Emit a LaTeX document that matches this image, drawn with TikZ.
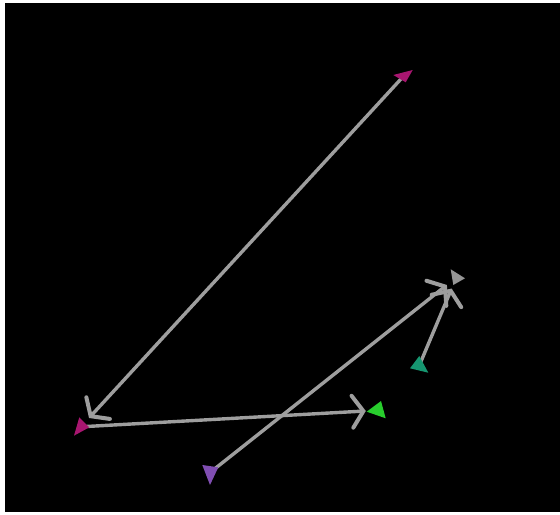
\documentclass[tikz,border=0pt]{standalone}
\usepackage{tikz}
\usetikzlibrary{arrows.meta, calc}
\definecolor{linkgray}{RGB}{158,158,158}
\definecolor{plum}{RGB}{168,22,112}
\definecolor{leaf}{RGB}{40,205,45}
\definecolor{sea}{RGB}{22,150,112}
\definecolor{violet}{RGB}{128,78,178}
\definecolor{ash}{RGB}{150,150,150}

\begin{document}
\begin{tikzpicture}[x=0.5mm, y=-0.5mm,
    link/.style={draw=linkgray, line width=1.7mm, line cap=round,
        -{Straight Barb[length=5.5mm, width=16mm, line width=2mm, line cap=round]}, shorten >=6mm}]
    % Frame
    \useasboundingbox (0,0) rectangle (560,515);
    \fill[white] (0,0) rectangle (560,515);
    \fill[black] (5,3) rectangle (560,512);

    % Points
    \coordinate (m1) at (403.9,75.8);
    \coordinate (m2) at (80.9,426.8);
    \coordinate (g) at (377.8,410.3);
    \coordinate (p) at (210.2,472.4);
    \coordinate (t) at (419.2,365.7);
    \coordinate (c) at (456.3,277.5);

    % Links
    \draw[link] (m1) -- (m2);
    \draw[link] (m2) -- (g);
    \draw[link] (p) -- (c);
    \draw[link] (t) -- (c);

    % Markers
    \fill[plum] ($(m1)+(-10.6,-0.8)$) -- ($(m1)+(8.8,-5.8)$) -- ($(m1)+(1.8,6.5)$) -- cycle;
    \fill[plum] ($(m2)+(-1.6,-9.5)$) -- ($(m2)+(-6.9,8.9)$) -- ($(m2)+(8.4,0.5)$) -- cycle;
    \fill[leaf] ($(g)+(-11.1,1.4)$) -- ($(g)+(3.2,-9.3)$) -- ($(g)+(7.9,8)$) -- cycle;
    \fill[violet] ($(p)+(-7.9,-7.4)$) -- ($(p)+(8.1,-5.1)$) -- ($(p)+(-0.2,12.6)$) -- cycle;
    \fill[sea] ($(t)+(0.1,-9.7)$) -- ($(t)+(-9.2,2.6)$) -- ($(t)+(9.1,7)$) -- cycle;
    \fill[ash] ($(c)+(-5.6,-8.2)$) -- ($(c)+(8.7,0.8)$) -- ($(c)+(-3,7.5)$) -- cycle;
\end{tikzpicture}
\end{document}
